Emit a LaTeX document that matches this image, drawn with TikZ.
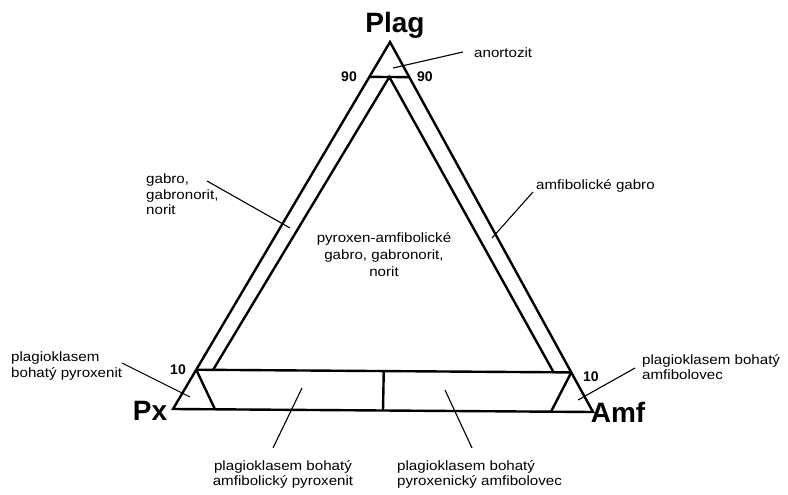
\documentclass[tikz,border=0pt]{standalone}
\usepackage{fontspec}
\setmainfont{Liberation Sans}[FakeStretch=1.12]
\newfontfamily\plainfont{Liberation Sans}
\usetikzlibrary{calc}
\tikzset{
  edge/.style={line width=2.4bp, line join=miter},
  leader/.style={line width=1.1bp},
  lbl/.style={inner sep=0pt, font=\fontsize{13.5bp}{15.5bp}\selectfont},
  corner/.style={inner sep=0pt, font=\plainfont\bfseries\fontsize{28bp}{30bp}\selectfont},
  num/.style={inner sep=0pt, font=\plainfont\bfseries\fontsize{14bp}{16bp}\selectfont}
}
\begin{document}
\begin{tikzpicture}[x=1bp,y=-1bp]
\useasboundingbox (0,0) rectangle (788,495);
% outer triangle corners
\coordinate (P) at (390,42);
\coordinate (X) at (173,409);
\coordinate (A) at (593,412);
% 90 and 10 lines
\coordinate (L90) at ($(P)!0.095!(X)$);
\coordinate (R90) at ($(P)!0.095!(A)$);
\coordinate (L10) at ($(P)!0.893!(X)$);
\coordinate (R10) at ($(P)!0.893!(A)$);
\coordinate (BX) at ($(X)!0.1!(A)$);
\coordinate (BA) at ($(A)!0.1!(X)$);
% inner triangle
\coordinate (I0) at ($(L90)!0.5!(R90)$);
\coordinate (IL) at (213,370);
\coordinate (IR) at (554,373);
% divider
\coordinate (D1) at ($(L10)!0.5!(R10)$);
\coordinate (D2) at ($(X)!0.5!(A)$);

\draw[edge] (P) -- (X) -- (A) -- cycle;
\draw[edge] (L90) -- (R90);
\draw[edge] (L10) -- (R10);
\draw[edge] (L10) -- (BX);
\draw[edge] (R10) -- (BA);
\draw[edge] (IL) -- (I0) -- (IR);
\draw[edge] (D1) -- (D2);

% corner labels
\node[corner, anchor=base] (plag) at (395,33) {Plag};
\node[corner, anchor=base] (px) at (150,420) {Px};
\node[corner, anchor=base] (amf) at (618,422) {Amf};
% numbers
\node[num, anchor=east] (n90l) at (357,77) {90};
\node[num, anchor=west] (n90r) at (417,77) {90};
\node[num, anchor=east] (n10l) at (186,370) {10};
\node[num, anchor=west] (n10r) at (583,377) {10};

% text labels
\node[lbl, anchor=west] (anort) at (474,53) {anortozit};
\node[lbl, anchor=north west, align=left] (gab) at (146,174) {gabro,\\gabronorit,\\norit};
\node[lbl, anchor=west] (amfg) at (536,186) {amfibolické gabro};
\node[lbl, align=center, font=\fontsize{13.5bp}{17bp}\selectfont] (pyam) at (384,255) {pyroxen-amfibolické\\gabro, gabronorit,\\norit};
\node[lbl, anchor=north west, align=left] (lpx) at (11,352) {plagioklasem\\bohatý pyroxenit};
\node[lbl, anchor=north west, align=left] (ramf) at (642,354) {plagioklasem bohatý\\amfibolovec};
\node[lbl, anchor=north, align=center] (bl) at (283,460) {plagioklasem bohatý\\amfibolický pyroxenit};
\node[lbl, anchor=north west, align=left] (br) at (397,460) {plagioklasem bohatý\\pyroxenický amfibolovec};

% leader lines
\coordinate (a1) at (393,68);  \coordinate (a2) at (463,52);
\coordinate (g1) at (207,181); \coordinate (g2) at (290,228);
\coordinate (m1) at (533,192); \coordinate (m2) at (492,238);
\coordinate (l1) at (122,363); \coordinate (l2) at (190,397);
\coordinate (r1) at (635,368); \coordinate (r2) at (578,400);
\coordinate (b1) at (302,388); \coordinate (b2) at (273,448);
\coordinate (c1) at (445,390); \coordinate (c2) at (472,448);
\draw[leader] (a1) -- (a2);
\draw[leader] (g1) -- (g2);
\draw[leader] (m1) -- (m2);
\draw[leader] (l1) -- (l2);
\draw[leader] (r1) -- (r2);
\draw[leader] (b1) -- (b2);
\draw[leader] (c1) -- (c2);
\end{tikzpicture}
\end{document}
